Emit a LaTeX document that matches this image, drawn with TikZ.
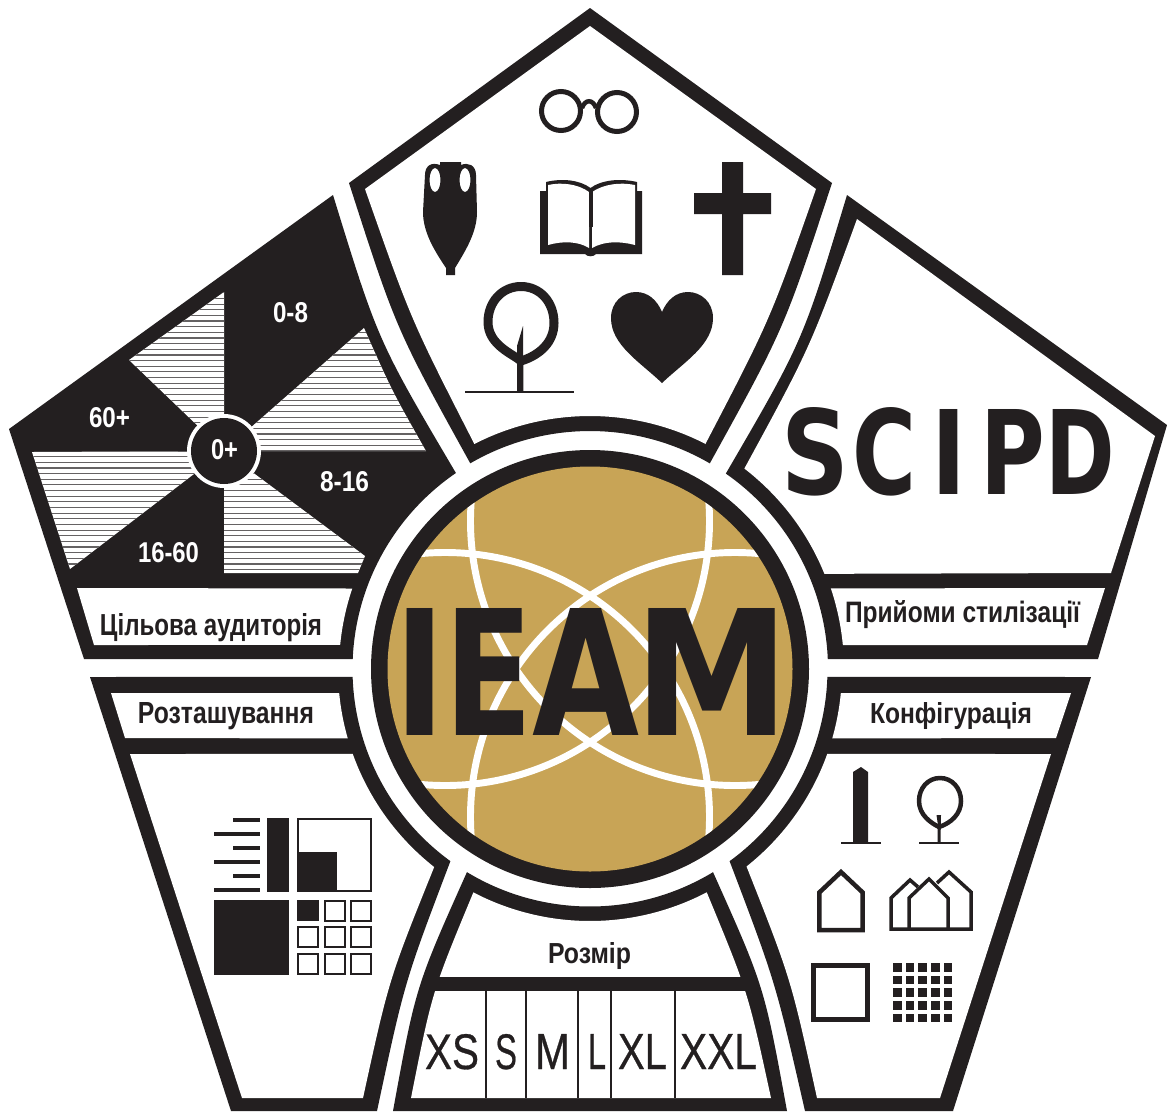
\documentclass[tikz,border=0pt]{standalone}
\usepackage{fontspec}
\usepackage{graphicx}
\setmainfont{Liberation Sans}
\newfontfamily\heavyfont{DejaVu Sans}
\newfontfamily\sizefont[FakeBold=0.6]{Liberation Sans}
\definecolor{ink}{HTML}{231F20}
\definecolor{gold}{HTML}{C8A456}
\newlength\fitw
\newlength\fith
\newcommand\fit[3]{\setlength\fitw{\dimexpr #1pt*3/4\relax}\setlength\fith{\dimexpr #2pt*3/4\relax}\resizebox{\fitw}{\fith}{#3}}
\newcommand\ringarc[3]{({590+#1*cos(#2)},{-669+#1*sin(#2)}) arc[start angle=#2,end angle=#3,radius=#1*0.75pt]}
\newcommand\hatchlines{\foreach \hy in {0,...,55}{\draw[hatchline] (0,{-281.5-\hy*5.65}) -- (500,{-281.5-\hy*5.65});}}
\tikzset{
  x=.75pt,y=.75pt,
  inkfill/.style={fill=ink,draw=none},
  paper/.style={fill=white,draw=none},
  hatchline/.style={draw=ink!70,line width=.85pt},
  label/.style={anchor=base,inner sep=0pt,outer sep=0pt,text=ink,font=\bfseries},
  wlabel/.style={label,text=white},
  size/.style={anchor=base,inner sep=0pt,outer sep=0pt,text=ink,font=\sizefont},
  ring/.style={draw=ink,fill=none,line width=#1*.75pt},
  ring/.default=2.5
}
\begin{document}
\begin{tikzpicture}
\useasboundingbox (0,0) rectangle (1167,-1111);
\fill[white] (0,0) rectangle (1167,-1111);

% ---- top panel
\fill[inkfill] (590,-8) -- (832,-183) .. controls (784,-329) .. (710,-463) -- \ringarc{238}{59.8}{120.2} .. controls (396,-329) .. (349,-183) -- cycle;
\fill[paper] (590,-26) -- (816,-189) .. controls (770,-320) .. (705.4,-444) -- \ringarc{253}{62.8}{117.2} .. controls (411,-320) .. (365,-189) -- cycle;
% glasses
\draw[ring=5] (561,-111) circle[radius=19.5*.75pt];
\draw[ring=5] (617,-112) circle[radius=19.5*.75pt];
\draw[ring=4.5] (582,-108) .. controls (585,-99) and (593,-99) .. (596,-108);
% amphora
\fill[inkfill,even odd rule] (440,-162) -- (461,-162) -- (461,-165) .. controls (468,-162) and (476,-165) .. (476,-175) -- (477,-212) .. controls (477,-232) and (466,-250) .. (455,-268) -- (455,-275) -- (446,-275) -- (446,-268) .. controls (434,-250) and (423,-232) .. (423,-212) -- (425,-175) .. controls (425,-165) and (432,-162) .. (440,-165) -- cycle
 (435,-180) ellipse[x radius=5.5*.75pt,y radius=12*.75pt] (465,-180) ellipse[x radius=5.5*.75pt,y radius=12*.75pt];
% book
\fill[inkfill] (540,-191) -- (546,-191) -- (546,-182) .. controls (562,-178) and (580,-180) .. (590.5,-188) .. controls (601,-180) and (620,-178) .. (637,-182) -- (637,-191) -- (642,-191) -- (642,-254) -- (596,-254) .. controls (594,-257) and (587,-257) .. (585,-254) -- (540,-254) -- cycle;
\fill[paper] (548,-185) .. controls (562,-182) and (578,-184) .. (589,-192) -- (589,-248) .. controls (578,-241) and (562,-241) .. (548,-245) -- cycle;
\fill[paper] (635,-185) .. controls (620,-182) and (604,-184) .. (592,-192) -- (592,-248) .. controls (604,-241) and (620,-241) .. (635,-245) -- cycle;
\fill[inkfill] (588.5,-190) rectangle (592.5,-227);
\fill[inkfill] (590,-227) rectangle (591,-250);
% cross
\fill[inkfill] (722,-162) -- (743,-162) -- (743,-193) -- (771,-193) -- (771,-214) -- (743,-214) -- (743,-275) -- (722,-275) -- (722,-214) -- (694,-214) -- (694,-193) -- (722,-193) -- cycle;
% tree
\draw[ring=9,line join=round] (521,-286.5) .. controls (540,-286.5) and (554,-302) .. (554,-323) .. controls (554,-342) and (540,-355) .. (521,-361) .. controls (513,-354) and (488,-345) .. (488,-322) .. controls (488,-302) and (502,-286.5) .. (521,-286.5) -- cycle;
\fill[inkfill] (517,-392) -- (517,-346) -- (523,-326) -- (523.5,-392) -- cycle;
\draw[ring=2.5] (465,-392) -- (574,-392);
% heart
\fill[inkfill] (662,-383) .. controls (640,-362) and (611,-345) .. (611,-318) .. controls (611,-302) and (623,-292) .. (636,-292) .. controls (648,-292) and (657,-300) .. (662,-312) .. controls (667,-300) and (676,-292) .. (688,-292) .. controls (701,-292) and (713,-302) .. (713,-318) .. controls (713,-345) and (684,-362) .. (662,-383) -- cycle;

% ---- left panel
\fill[inkfill] (333,-195) .. controls (378,-341) .. (455.9,-473) -- \ringarc{237.5}{124.4}{177.6} -- (84,-659) -- (9,-429) -- cycle;
\fill[paper] (77,-588) -- (352,-588.5) -- \ringarc{251}{161.3}{174.5} -- (94,-645) -- cycle;
\begin{scope}
  \clip (224,-292) -- (224,-451) -- (129,-360) -- cycle;
  \fill[paper] (0,0) rectangle (500,-700); \hatchlines
\end{scope}
\begin{scope}
  \clip (364,-328) .. controls (392,-391) .. (426,-451) -- (224,-451) -- cycle;
  \fill[paper] (0,0) rectangle (500,-700); \hatchlines
\end{scope}
\begin{scope}
  \clip (224,-451) -- (224,-573) -- (358,-573) -- (365,-556) -- cycle;
  \fill[paper] (0,0) rectangle (500,-700); \hatchlines
\end{scope}
\begin{scope}
  \clip (32,-452) -- (224,-451) -- (70,-569) -- cycle;
  \fill[paper] (0,0) rectangle (500,-700); \hatchlines
\end{scope}
\fill[paper] (224,-451) circle[radius=37*.75pt];
\fill[inkfill] (224,-451) circle[radius=33*.75pt];
\node[wlabel] (age0) at (224.5,-459) {\fit{27}{20}{0+}};
\node[wlabel] (age1) at (290.5,-322) {\fit{35}{20}{0-8}};
\node[wlabel] (age2) at (344.5,-491) {\fit{49}{20}{8-16}};
\node[wlabel] (age3) at (168.5,-562) {\fit{61}{20}{16-60}};
\node[wlabel] (age4) at (109.5,-427) {\fit{41}{20}{60+}};
\node[label] (aud) at (211,-635) {\fit{222}{22}{Цільова аудиторія}};

% ---- right panel
\fill[inkfill] (847,-195) -- (1167,-425) -- (1098,-659) -- \ringarc{238}{2.4}{55.2} .. controls (803,-341) .. (847,-195) -- cycle;
\fill[paper] (857,-219) -- (1155,-436) -- (1111,-573) -- \ringarc{253}{22.1}{52.4} .. controls (810,-348) .. (857,-219) -- cycle;
\fill[paper] (1105,-588) -- (1087,-645) -- \ringarc{254}{5.4}{18.5} -- cycle;
\node[label,anchor=base west] (scipd) at (781.4,-494) {\heavyfont\bfseries\fit{67.7}{87}{S}\kern2.6pt\fit{64}{87}{C}\kern11.1pt\fit{35}{85}{I}\kern10.9pt\fit{64.7}{85}{P}\fit{69.6}{85}{D}};
\node[label] (style) at (962.5,-622) {\fit{235}{22}{Прийоми стилізації}};

% ---- lower left panel
\fill[inkfill] (90,-677) -- \ringarc{237.5}{181.9}{234} .. controls (404.5,-982) .. (377,-1111) -- (231,-1111) -- cycle;
\fill[paper] (111,-693) -- \ringarc{252}{185.5}{196} -- (125,-738) -- cycle;
\fill[paper] (130,-754) -- \ringarc{252}{199.7}{231.8} .. controls (389,-979) .. (363,-1098) -- (242,-1098) -- cycle;
\node[label] (place) at (226,-723) {\fit{176}{21}{Розташування}};
% layout icon
\foreach \ly/\lx in {820/233,834/214,848/233,862/214,876/233,890/214}{
  \fill[inkfill] (\lx,-\ly-1.8) rectangle (260,-\ly+1.8);
}
\fill[inkfill] (267,-818) rectangle (289,-892);
\draw[ring=2.2] (298,-819) rectangle (371,-891);
\fill[inkfill] (297,-852) rectangle (337,-892);
\fill[inkfill] (214,-900) rectangle (289,-975);
\fill[inkfill] (297,-900) rectangle (319,-921);
\foreach \cx/\cy in {324/900,350/900,297/926,324/926,350/926,297/953,324/953,350/953}{
  \draw[ring=2.5] (\cx+1.2,-\cy-1.2) rectangle (\cx+20.8,-\cy-20.8);
}

% ---- lower right panel
\fill[inkfill] (1091,-677) -- \ringarc{237.5}{-1.9}{-54} .. controls (775.5,-982) .. (805,-1111) -- (953,-1111) -- cycle;
\fill[paper] (1071,-693) -- \ringarc{252}{-5.5}{-16} -- (1056,-738) -- cycle;
\fill[paper] (1051,-754) -- \ringarc{252}{-19.7}{-51.6} .. controls (791,-979) .. (817,-1098) -- (940,-1098) -- cycle;
\node[label] (config) at (951,-723) {\fit{162}{21}{Конфігурація}};
% obelisk
\fill[inkfill] (853,-843) -- (853,-772) -- (861,-767) -- (868,-772) -- (868,-843) -- cycle;
\draw[ring=2] (841,-843) -- (881,-843);
% small tree
\draw[ring=4.5] (940,-778) .. controls (952,-778) and (961,-788) .. (961,-801) .. controls (961,-814) and (951,-823) .. (939,-827) .. controls (931,-823) and (919,-815) .. (919,-801) .. controls (919,-788) and (928,-778) .. (940,-778) -- cycle;
\fill[inkfill] (937.5,-843) -- (937.5,-822) -- (936.5,-815) -- (941,-815) -- (940.5,-843) -- cycle;
\draw[ring=2] (919,-843) -- (959,-843);
% house
\draw[ring=4.5,miter limit=4] (819.3,-930) -- (819.3,-892.5) -- (841,-872) -- (862.7,-892.5) -- (862.7,-930) -- cycle;
% houses
\draw[ring=3.5,miter limit=4] (937,-883) -- (949,-872) -- (971,-892) -- (971,-929) -- (891,-929) -- (891,-898) -- (910,-880) -- (918,-887);
\draw[ring=3.5,miter limit=4] (909,-929) -- (909,-898) -- (929,-879) -- (948,-898) -- (948,-929);
% square
\draw[ring=5.3] (813.7,-965.7) rectangle (867.3,-1019.3);
% dot grid
\foreach \gi in {0,...,4}{\foreach \gj in {0,...,4}{
  \fill[inkfill] ({893+\gi*12.67},{-963-\gj*12.67}) rectangle ({901.7+\gi*12.67},{-971.7-\gj*12.67});
}}

% ---- bottom panel
\fill[inkfill] (393,-1111) .. controls (415.7,-986.6) .. (467,-872) -- \ringarc{237.5}{238.8}{301.2} .. controls (764.3,-986.6) .. (787,-1111) -- cycle;
\fill[paper] (411,-1098) .. controls (432,-992) .. (473.4,-892.3) -- \ringarc{252}{242.4}{297.6} .. controls (748,-992) .. (771,-1098) -- cycle;
\fill[inkfill] (425,-977) rectangle (755,-991);
\foreach \dv in {486,526,578,611,675}{\fill[inkfill] (\dv-1.3,-991) rectangle (\dv+1.3,-1098);}
\node[label] (sizeT) at (589.5,-963) {\fit{83}{21}{Розмір}};
\node[size] (xs) at (452,-1069) {\fit{54}{35}{XS}};
\node[size] (s) at (506,-1069) {\fit{22}{35}{S}};
\node[size] (m) at (552.5,-1069) {\fit{35}{35}{M}};
\node[size] (l) at (597,-1069) {\fit{18}{35}{L}};
\node[size] (xl) at (642.5,-1069) {\fit{49}{35}{XL}};
\node[size] (xxl) at (718.5,-1069) {\fit{77}{35}{XXL}};

% ---- centre
\fill[inkfill] (590,-669) circle[radius=219*.75pt];
\fill[gold] (590,-669) circle[radius=202.5*.75pt];
\begin{scope}
  \clip (590,-669) circle[radius=202.5*.75pt];
  \foreach \ax/\ay in {445/817,735/817,445/521,735/521}{
    \draw[white,line width=5.2pt] (\ax,-\ay) circle[radius=264.5*.75pt];
  }
\end{scope}
\node[label,anchor=base west] (ieam) at (394.5,-735) {\heavyfont\bfseries\fit{51}{127}{I}\kern-.9pt\fit{88.5}{127}{E}\kern-.6pt\fit{107}{127}{A}\kern-3.75pt\fit{155}{127}{M}};
\end{tikzpicture}
\end{document}
